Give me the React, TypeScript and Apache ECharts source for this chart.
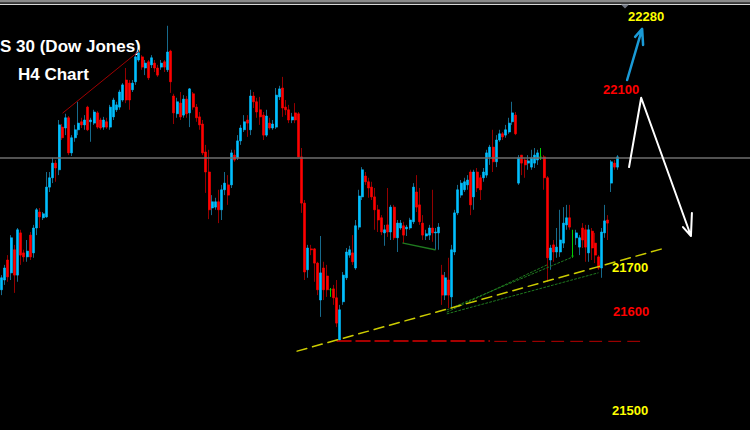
import React, { useEffect, useRef } from "react";
import * as echarts from "echarts";

// ---- data ----
const slotCount = 235; // bar slots across the window (right part is empty future space)
const categories = Array.from({ length: slotCount }, (_, i) => "H4-" + (i + 1));

// [open, close, low, high]
const candles: number[][] = [
  [21648, 21675, 21636, 21681], [21670, 21697, 21659, 21704], [21715, 21677, 21666, 21726], [21686, 21765, 21670, 21771],
  [21738, 21681, 21641, 21749], [21681, 21783, 21666, 21787], [21776, 21726, 21704, 21783], [21731, 21722, 21711, 21738],
  [21722, 21735, 21711, 21760], [21771, 21722, 21715, 21778], [21731, 21787, 21720, 21794], [21787, 21828, 21771, 21832],
  [21823, 21812, 21787, 21832], [21810, 21819, 21805, 21823], [21812, 21879, 21810, 21913], [21879, 21900, 21868, 21913],
  [21900, 21933, 21888, 21945], [21933, 21922, 21891, 21940], [21918, 22019, 21906, 22030], [22014, 21990, 21985, 22021],
  [22012, 22035, 21996, 22044], [22035, 21956, 21951, 22039], [21956, 21990, 21949, 21996], [21990, 22008, 21981, 22019],
  [22008, 22023, 21996, 22071], [22026, 22019, 22012, 22035], [22019, 22030, 22008, 22041], [22059, 22008, 22005, 22062],
  [22026, 22030, 21981, 22035], [22023, 22048, 22019, 22053], [22046, 22014, 22010, 22050], [22030, 22012, 22008, 22035],
  [22014, 22030, 22008, 22037], [22026, 22014, 22010, 22035], [22014, 22059, 22008, 22064], [22037, 22075, 22030, 22080],
  [22053, 22064, 22048, 22071], [22059, 22093, 22053, 22098], [22075, 22109, 22071, 22113], [22120, 22075, 22068, 22147],
  [22113, 22075, 22053, 22120], [22098, 22113, 22093, 22120], [22116, 22172, 22109, 22176], [22165, 22181, 22161, 22188],
  [22172, 22149, 22143, 22176], [22147, 22158, 22131, 22165], [22161, 22125, 22120, 22165], [22154, 22170, 22147, 22176],
  [22158, 22147, 22138, 22165], [22147, 22131, 22127, 22154], [22149, 22158, 22143, 22165], [22161, 22149, 22138, 22165],
  [22143, 22183, 22138, 22242], [22185, 22116, 22091, 22188], [22084, 22046, 22021, 22089], [22044, 22071, 22035, 22080],
  [22068, 22037, 22030, 22093], [22041, 22077, 22035, 22086], [22077, 22044, 22035, 22084], [22046, 22100, 22014, 22102],
  [22089, 22059, 22053, 22093], [22059, 22035, 22026, 22066], [22037, 22019, 22008, 22048], [22021, 21956, 21951, 22030],
  [21958, 21913, 21866, 21974], [21913, 21828, 21807, 21963], [21832, 21846, 21816, 21861], [21834, 21846, 21828, 21855],
  [21846, 21828, 21798, 21873], [21828, 21873, 21805, 21884], [21873, 21888, 21861, 21913], [21884, 21861, 21839, 21906],
  [21884, 21956, 21877, 21963], [21951, 21940, 21936, 21963], [21945, 21983, 21940, 21996], [21983, 22012, 21974, 22019],
  [22008, 22026, 22003, 22041], [22030, 22023, 21992, 22041], [22008, 22084, 21996, 22098], [22084, 22071, 22057, 22093],
  [22071, 22048, 22035, 22080], [22053, 22037, 22019, 22082], [22041, 21996, 21985, 22048], [21996, 22039, 21992, 22053],
  [22023, 22012, 22008, 22035], [22012, 22021, 22008, 22030], [22014, 22086, 22010, 22102], [22082, 22100, 22075, 22107],
  [22102, 22057, 22037, 22127], [22059, 22053, 22041, 22075], [22053, 22030, 22023, 22064], [22030, 22037, 22023, 22046],
  [22046, 22030, 22023, 22068], [22044, 21947, 21945, 22048], [21947, 21843, 21821, 21967], [21843, 21688, 21670, 21850],
  [21693, 21742, 21675, 21749], [21740, 21738, 21726, 21749], [21740, 21708, 21666, 21742], [21708, 21648, 21636, 21711],
  [21625, 21686, 21587, 21769], [21697, 21648, 21625, 21711], [21679, 21648, 21632, 21704], [21648, 21648, 21632, 21652],
  [21650, 21630, 21614, 21659], [21630, 21573, 21564, 21670], [21535, 21603, 21533, 21614], [21621, 21681, 21614, 21688],
  [21675, 21733, 21670, 21742], [21726, 21738, 21720, 21747], [21731, 21711, 21704, 21771], [21697, 21792, 21693, 21805],
  [21789, 21859, 21783, 21873], [21857, 21918, 21850, 21924], [21904, 21891, 21884, 21913], [21891, 21877, 21855, 21900],
  [21879, 21857, 21850, 21891], [21857, 21828, 21783, 21877], [21828, 21805, 21778, 21839], [21810, 21778, 21771, 21816],
  [21776, 21783, 21747, 21794], [21794, 21778, 21767, 21877], [21778, 21834, 21760, 21839], [21834, 21765, 21760, 21839],
  [21765, 21798, 21733, 21805], [21787, 21798, 21783, 21805], [21792, 21771, 21753, 21801], [21785, 21789, 21769, 21794],
  [21787, 21805, 21783, 21810], [21801, 21879, 21796, 21888], [21868, 21834, 21823, 21906], [21839, 21801, 21794, 21877],
  [21798, 21771, 21760, 21816], [21769, 21774, 21760, 21783], [21771, 21787, 21760, 21794], [21787, 21776, 21756, 21873],
  [21776, 21778, 21738, 21787], [21776, 21789, 21738, 21798], [21681, 21636, 21614, 21704], [21636, 21675, 21625, 21688],
  [21670, 21636, 21607, 21720], [21632, 21738, 21607, 21749], [21733, 21821, 21726, 21828], [21821, 21873, 21816, 21884],
  [21861, 21888, 21855, 21895], [21873, 21891, 21868, 21900], [21884, 21895, 21873, 21906], [21913, 21839, 21816, 21918],
  [21857, 21913, 21828, 21918], [21913, 21877, 21868, 21922], [21900, 21873, 21850, 21906], [21900, 21913, 21891, 21922],
  [21906, 21956, 21900, 21963], [21947, 21969, 21929, 21974], [21969, 21936, 21913, 22008], [21936, 21985, 21924, 21996],
  [21985, 21999, 21981, 22008], [21999, 21992, 21985, 22003], [21996, 22008, 21990, 22019], [22003, 22023, 21999, 22035],
  [22026, 22046, 22019, 22071], [22041, 21999, 21996, 22048], [21888, 21945, 21884, 21951], [21951, 21933, 21906, 21951],
  [21940, 21929, 21900, 21945], [21933, 21938, 21918, 21951], [21924, 21945, 21918, 21963], [21933, 21951, 21922, 21967],
  [21940, 21956, 21929, 21963], [21947, 21947, 21940, 21967], [21947, 21900, 21873, 21951], [21900, 21720, 21666, 21904],
  [21715, 21742, 21693, 21749], [21749, 21733, 21711, 21760], [21733, 21744, 21720, 21787], [21733, 21760, 21722, 21828],
  [21753, 21798, 21742, 21834], [21794, 21810, 21783, 21839], [21810, 21789, 21783, 21839], [21724, 21724, 21720, 21783],
  [21765, 21776, 21749, 21783], [21744, 21765, 21726, 21771], [21787, 21760, 21742, 21798], [21783, 21744, 21711, 21794],
  [21731, 21783, 21711, 21794], [21780, 21742, 21715, 21787], [21753, 21726, 21708, 21776], [21722, 21697, 21693, 21726],
  [21697, 21778, 21675, 21787], [21776, 21803, 21765, 21839], [21805, 21798, 21760, 21816], [21888, 21936, 21868, 21940],
  [21933, 21924, 21918, 21940], [21924, 21947, 21918, 21951],
];

const priceMin = 21332.5;
const priceMax = 22300;
const currentPriceLine = 21946;

// annotation lines: [bar index, price]
const channelLine = [[19.2, 22046], [42.7, 22183]];
const risingSupport = [[92.6, 21510], [207.9, 21742]];
const lowLevelNear = [[105.1, 21533], [152.8, 21533]];
const lowLevelFar = [[154.5, 21532], [201.0, 21532]];
const greenSegment = [[125.8, 21753], [135.8, 21738]];
const greenFanA = [[139.6, 21598], [170.9, 21704]];
const greenFanB = [[139.6, 21603], [179.0, 21722]];
const greenFanC = [[139.6, 21594], [186.9, 21686]];
const blueArrow = [[196.0, 22120], [200.7, 22235], [198.5, 22217], [200.7, 22235], [201.0, 22199]];
const whiteArrow = [[196.6, 21924], [200.4, 22080], [216.0, 21769], [213.5, 21789], [216.0, 21769], [216.3, 21821]];

const titleLines = ["S 30 (Dow Jones)", "H4 Chart"];
const levelLabels = ["22280", "22100", "21700", "21600", "21500"];
const levelColors = ["#ffff00", "#ff0000", "#ffff00", "#ff0000", "#ffff00"];

const BLUE = "#00bfff";
const RED = "#ff0000";
const GREEN = "#00d000";

export default function App() {
  const ref = useRef<HTMLDivElement>(null);
  useEffect(() => {
    if (!ref.current) return;
    const chart = echarts.init(ref.current, undefined, { renderer: "svg" });

    const wickData = candles.map((c) =>
      c[0] === c[1]
        ? { value: c, itemStyle: { color: GREEN, borderColor: GREEN, color0: GREEN, borderColor0: GREEN } }
        : c
    );
    const bodyData = candles.map((c) => {
      const v = [c[0], c[1], Math.min(c[0], c[1]), Math.max(c[0], c[1])];
      return c[0] === c[1]
        ? { value: v, itemStyle: { color: GREEN, borderColor: GREEN, color0: GREEN, borderColor0: GREEN } }
        : v;
    });

    const lineSeries = (data: number[][], color: string, width: number, type: any, z = 5) => ({
      type: "line",
      xAxisIndex: 1,
      yAxisIndex: 0,
      data,
      symbol: "none",
      silent: true,
      z,
      lineStyle: { color, width, type, join: "round", cap: "round" },
    });

    const labelXs = [628, 603, 612, 613, 612];
    const labelYs = [16, 89, 267.5, 311.5, 410];

    chart.setOption({
      animation: false,
      backgroundColor: "#000000",
      grid: { left: 0, right: 0, top: 0, bottom: 0, containLabel: false },
      xAxis: [
        { type: "category", data: categories, show: false, boundaryGap: true },
        { type: "value", min: -0.5, max: slotCount - 0.5, show: false },
      ],
      yAxis: { type: "value", min: priceMin, max: priceMax, show: false, splitLine: { show: false } },
      series: [
        {
          type: "candlestick",
          data: wickData,
          barWidth: 1,
          silent: true,
          z: 2,
          itemStyle: { color: "#176a8c", color0: "#950000", borderColor: "#176a8c", borderColor0: "#950000", borderWidth: 1 },
        },
        {
          type: "candlestick",
          data: bodyData,
          barWidth: 2.5,
          silent: true,
          z: 3,
          itemStyle: { color: BLUE, color0: RED, borderColor: BLUE, borderColor0: RED, borderWidth: 0.6 },
          markLine: {
            silent: true,
            symbol: ["none", "none"],
            label: { show: false },
            lineStyle: { color: "#6e6e6e", width: 1.6, type: "solid" },
            data: [{ yAxis: currentPriceLine }],
          },
        },
        lineSeries(channelLine, "#a00000", 1, "solid"),
        lineSeries(lowLevelNear, "#dd0000", 1.5, [14, 5]),
        lineSeries(lowLevelFar, "#b80000", 1, [12, 7]),
        lineSeries(greenFanA, "#1f7a1f", 1, [2, 2]),
        lineSeries(greenFanB, "#1f7a1f", 1, [2, 2]),
        lineSeries(greenFanC, "#1f7a1f", 1, [2, 2]),
        lineSeries(greenSegment, "#1f7a1f", 1.5, "solid"),
        lineSeries(risingSupport, "#cccc00", 1.5, [10, 6], 6),
        lineSeries(blueArrow, "#1a9ad6", 2.5, "solid", 7),
        lineSeries(whiteArrow, "#ffffff", 2, "solid", 7),
      ],
      graphic: [
        { type: "rect", shape: { x: 0, y: 0, width: 750, height: 2.5 }, style: { fill: "#8a8a8a" }, silent: true },
        { type: "rect", shape: { x: 0, y: 3.7, width: 750, height: 1.2 }, style: { fill: "#d8d8d8" }, silent: true },
        { type: "polygon", shape: { points: [[621, 4.5], [629, 4.5], [625, 8.5]] }, style: { fill: "#6f7480" }, silent: true },
        {
          type: "text", x: 0, y: 46.5, silent: true,
          style: { text: titleLines[0], fill: "#ffffff", font: 'bold 17px "Liberation Sans", Arial, sans-serif', textAlign: "left", textVerticalAlign: "middle" },
        },
        {
          type: "text", x: 18, y: 74, silent: true,
          style: { text: titleLines[1], fill: "#ffffff", font: 'bold 17px "Liberation Sans", Arial, sans-serif', textAlign: "left", textVerticalAlign: "middle" },
        },
        ...levelLabels.map((t, i) => ({
          type: "text", x: labelXs[i], y: labelYs[i], silent: true,
          style: { text: t, fill: levelColors[i], font: 'bold 13px "Liberation Sans", Arial, sans-serif', textAlign: "left", textVerticalAlign: "middle" },
        })),
      ],
    });
    return () => chart.dispose();
  }, []);
  return (
    <div
      ref={ref}
      style={{ position: "fixed", left: 0, top: 0, width: 750, height: 430, background: "#000" }}
    />
  );
}
